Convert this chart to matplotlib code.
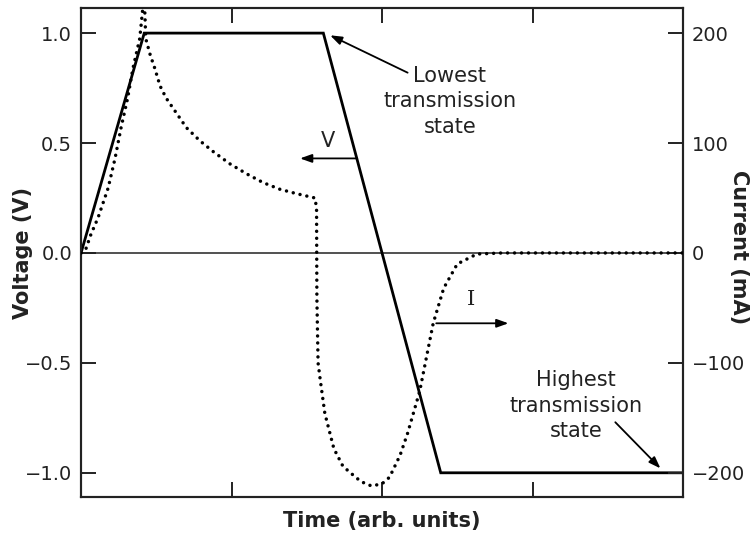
import matplotlib.pyplot as plt

# --- Voltage trace (V) ---
t_volt = [0.0, 0.42, 1.61, 2.39, 4.0]
volt = [0.0, 1.0, 1.0, -1.0, -1.0]

# --- Current trace (mA) ---
t_curr = [0.0, 0.033, 0.066, 0.113, 0.18, 0.226, 0.266, 0.31, 0.345, 0.39,
          0.41, 0.415, 0.425, 0.43, 0.46, 0.49, 0.525, 0.565, 0.64, 0.70,
          0.79, 0.88, 0.99, 1.10, 1.21, 1.32, 1.43, 1.555, 1.565, 1.567,
          1.575, 1.59, 1.62, 1.68, 1.74, 1.79, 1.86, 1.93, 2.0, 2.05,
          2.12, 2.17, 2.25, 2.34, 2.41, 2.50, 2.63, 2.8, 4.0]
curr = [0, 4, 17, 32, 59, 86, 114, 141, 168, 195,
        222, 250, 215, 195, 180, 168, 152, 141, 126, 114,
        102, 92, 81, 72, 64, 58, 54, 50, 40, -40,
        -100, -116, -146, -178, -194, -200, -208, -212, -210, -204,
        -184, -164, -126, -64, -32, -10, -1, 0, 0]

ink = '#222222'
plt.rcParams['font.family'] = 'DejaVu Sans'
plt.rcParams['text.color'] = ink

fig = plt.figure(figsize=(7.51, 5.36), dpi=100)
ax = fig.add_axes([0.1079, 0.0728, 0.8016, 0.9122])
ax2 = ax.twinx()

ax.axhline(0, color=ink, linewidth=1.1, zorder=1)
ax.plot(t_volt, volt, color='black', linewidth=2.0, solid_joinstyle='miter', zorder=3)
ax2.plot(t_curr, curr, color='black', linewidth=2.5, linestyle=(0, (0.01, 2.0)),
         dash_capstyle='round', zorder=3)

ax.set_xlim(0, 4)
ax.set_ylim(-1.11, 1.114)
ax2.set_ylim(-222, 222.8)

ax.set_xticks([0, 1, 2, 3, 4])
ax.set_xticklabels([])
ax.set_yticks([-1.0, -0.5, 0.0, 0.5, 1.0])
ax.set_yticklabels(['\u22121.0', '\u22120.5', '0.0', '0.5', '1.0'])
ax2.set_yticks([-200, -100, 0, 100, 200])
ax2.set_yticklabels(['\u2212200', '\u2212100', '0', '100', '200'])

ax.tick_params(axis='x', direction='in', length=11, width=1.4, top=True, color=ink)
ax.tick_params(axis='y', direction='in', length=11, width=1.4, labelsize=14,
               pad=6.5, colors=ink)
ax2.tick_params(axis='y', direction='in', length=11, width=1.4, labelsize=14,
                pad=6.5, colors=ink)

for a in (ax, ax2):
    for s in a.spines.values():
        s.set_linewidth(1.5)
        s.set_color(ink)

# axis titles placed where the reference has them
fig.text(382 / 751, 1 - 521 / 536, 'Time (arb. units)', fontsize=15,
         fontweight='bold', ha='center', va='center')
fig.text(23 / 751, 1 - 253 / 536, 'Voltage (V)', fontsize=15, fontweight='bold',
         rotation=90, ha='center', va='center')
fig.text(739 / 751, 1 - 247 / 536, 'Current (mA)', fontsize=15, fontweight='bold',
         rotation=-90, ha='center', va='center')

arrow = dict(arrowstyle='-|>,head_length=0.7,head_width=0.25', color='black',
             linewidth=1.3, shrinkA=0, shrinkB=0)

ax.text(2.45, 0.69, 'Lowest\ntransmission\nstate', fontsize=15, ha='center',
        va='center', linespacing=1.35)
ax.annotate('', xy=(1.655, 0.99), xytext=(2.17, 0.82), arrowprops=arrow)

ax.text(1.64, 0.51, 'V', fontsize=15, ha='center', va='center')
ax.annotate('', xy=(1.455, 0.43), xytext=(1.835, 0.43), arrowprops=arrow)

ax.text(2.59, -0.21, 'I', fontsize=15, ha='center', va='center', family='DejaVu Serif')
ax.annotate('', xy=(2.84, -0.32), xytext=(2.36, -0.32), arrowprops=arrow)

ax.text(3.29, -0.695, 'Highest\ntransmission\nstate', fontsize=15, ha='center',
        va='center', linespacing=1.35)
ax.annotate('', xy=(3.85, -0.98), xytext=(3.55, -0.77), arrowprops=arrow)

fig.savefig('out.png', dpi=100)
